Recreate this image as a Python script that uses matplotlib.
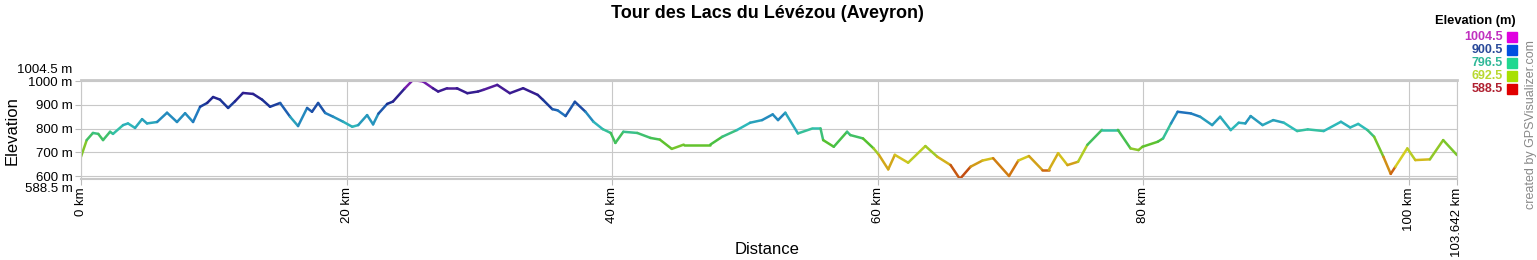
import numpy as np
import matplotlib.pyplot as plt
from matplotlib.collections import LineCollection
from matplotlib.colors import LinearSegmentedColormap, Normalize
import matplotlib.transforms as mtransforms

plt.rcParams['font.family'] = ['Liberation Sans', 'DejaVu Sans']

title = "Tour des Lacs du Lévézou (Aveyron)"

# distance (km) and elevation (m)
dist_km = [0.0, 0.43, 0.9, 1.3, 1.66, 2.19, 2.41, 3.17, 3.54, 4.07, 4.6, 4.97,
           5.73, 6.48, 7.23, 7.84, 8.44, 8.97, 9.5, 9.95, 10.47, 11.08, 11.6,
           12.2, 12.96, 13.64, 14.24, 15.0, 15.75, 16.35, 17.03, 17.4, 17.86,
           18.39, 19.0, 19.75, 20.43, 20.88, 21.55, 22.0, 22.4, 23.06, 23.5,
           24.4, 25.0, 25.77, 26.5, 26.9, 27.58, 28.3, 29.1, 29.9, 30.3, 31.35,
           32.3, 33.3, 34.4, 34.8, 35.5, 35.9, 36.5, 37.2, 38.0, 38.6, 39.3,
           39.9, 40.25, 40.85, 41.9, 42.9, 43.6, 44.5, 45.4, 47.4, 48.3, 49.4,
           50.4, 51.3, 52.1, 52.5, 53.05, 54.0, 55.1, 55.7, 55.9, 56.7, 57.7,
           57.95, 58.9, 59.7, 60.1, 60.8, 61.3, 62.3, 63.6, 64.5, 65.5, 66.2,
           67.0, 67.9, 68.7, 69.9, 70.6, 71.4, 72.4, 72.9, 73.6, 74.3, 75.1,
           75.8, 76.9, 78.1, 79.05, 79.65, 79.95, 81.1, 81.5, 82.1, 82.6, 83.6,
           84.3, 85.2, 85.8, 86.6, 87.2, 87.7, 88.1, 89.0, 89.8, 90.6, 91.6,
           92.4, 93.6, 94.9, 95.6, 96.2, 96.9, 97.4, 98.1, 98.65, 99.0, 99.9,
           100.5, 101.6, 102.6, 103.642]
elev_m = [682, 752, 782, 778, 752, 787, 778, 815, 822, 803, 840, 822,
          828, 867, 828, 865, 828, 892, 908, 933, 922, 887, 915,
          950, 946, 922, 892, 908, 850, 811, 887, 871, 908,
          866, 850, 829, 808, 815, 857, 818, 863, 904, 914,
          970, 1004.5, 998, 970, 956, 970, 970, 949, 956, 963, 984,
          949, 970, 942, 921, 882, 877, 853, 913, 871, 829, 798,
          782, 740, 787, 782, 761, 754, 715, 733, 733, 766, 794,
          825, 836, 860, 836, 867, 780, 801, 801, 752, 724, 787,
          773, 759, 717, 690, 629, 690, 657, 727, 682, 647, 588.5,
          640, 666, 676, 601, 666, 685, 627, 627, 697, 647, 661,
          732, 795, 795, 717, 710, 724, 745, 759, 822, 871, 864,
          850, 815, 850, 794, 825, 822, 853, 815, 836, 825, 790,
          797, 790, 829, 805, 820, 794, 766, 682, 610, 640, 717,
          668, 671, 752, 689]

elev_min, elev_max = 588.5, 1004.5
y_ticks = [600, 700, 800, 900, 1000]
x_ticks = [0, 20, 40, 60, 80, 100, 103.642]
x_labels = ["0 km", "20 km", "40 km", "60 km", "80 km", "100 km", "103.642 km"]

legend_values = ["1004.5", "900.5", "796.5", "692.5", "588.5"]
legend_swatch = ["#e000e0", "#0050e0", "#20d890", "#a8e000", "#e00000"]
legend_text = ["#c030c0", "#2a4a9a", "#30b898", "#b8d830", "#b02030"]

# line colour ramp (low -> high)
cmap = LinearSegmentedColormap.from_list("elev", [
    (0.00, "#b01a10"), (0.10, "#d07010"), (0.22, "#d4d020"),
    (0.37, "#4cc030"), (0.52, "#30c0b8"), (0.66, "#2078c0"),
    (0.78, "#1a2a90"), (0.90, "#3a1a90"), (1.00, "#a020c0")])

fig = plt.figure(figsize=(15.37, 2.6), dpi=100)
ax = fig.add_axes([81 / 1537, 81 / 260, 1376 / 1537, 99 / 260])

pts = np.column_stack([dist_km, elev_m])
segs = np.stack([pts[:-1], pts[1:]], axis=1)
mid = (np.array(elev_m[:-1]) + np.array(elev_m[1:])) / 2
lc = LineCollection(segs, cmap=cmap, norm=Normalize(elev_min, elev_max),
                    linewidths=1.8, capstyle='round', joinstyle='round')
lc.set_array(mid)
ax.add_collection(lc)

ax.set_xlim(0, 103.642)
ax.set_ylim(elev_min, elev_max)

ax.set_yticks(y_ticks)
ax.set_yticklabels([f"{v} m" for v in y_ticks], fontsize=9.5)
ax.set_xticks(x_ticks)
ax.set_xticklabels(x_labels, rotation=90, fontsize=9.5)
ax.tick_params(axis='both', length=4, color='#bbbbbb', pad=2)
ax.grid(True, color='#c8c8c8', linewidth=0.8)
ax.set_axisbelow(True)
for s in ax.spines.values():
    s.set_color('#c8c8c8')
ax.spines['top'].set_linewidth(2)
ax.spines['bottom'].set_linewidth(1.5)

# end-of-range labels, nudged away from the round values
off_up = mtransforms.offset_copy(ax.get_yaxis_transform(), fig=fig, x=-6, y=7, units='points')
off_dn = mtransforms.offset_copy(ax.get_yaxis_transform(), fig=fig, x=-6, y=-7, units='points')
ax.text(0, elev_max, f"{elev_max} m", transform=off_up, ha='right', va='center', fontsize=9.5)
ax.text(0, elev_min, f"{elev_min} m", transform=off_dn, ha='right', va='center', fontsize=9.5)

fig.text(12 / 1537, 1 - 131 / 260, "Elevation", rotation=90, ha='center', va='center', fontsize=12)
fig.text(767 / 1537, 1 - 250 / 260, "Distance", ha='center', va='center', fontsize=12)
fig.text(767 / 1537, 1 - 14 / 260, title, ha='center', va='center', fontsize=13, fontweight='bold')

# legend
fig.text(1516 / 1537, 1 - 21 / 260, "Elevation (m)", ha='right', va='center', fontsize=9.3, fontweight='bold')
for i, (v, sc, tc) in enumerate(zip(legend_values, legend_swatch, legend_text)):
    yc = 1 - (37 + i * 13) / 260
    fig.text(1503 / 1537, yc, v, ha='right', va='center', fontsize=9, fontweight='bold', color=tc)
    fig.patches.append(plt.Rectangle((1507 / 1537, yc - 5 / 260), 10 / 1537, 10 / 260,
                                     transform=fig.transFigure, color=sc, figure=fig))

fig.text(1531 / 1537, 1 - 125 / 260, "created by GPSVisualizer.com", rotation=90,
         ha='center', va='center', fontsize=9, color='#888888')

fig.savefig("out.png", dpi=100)
